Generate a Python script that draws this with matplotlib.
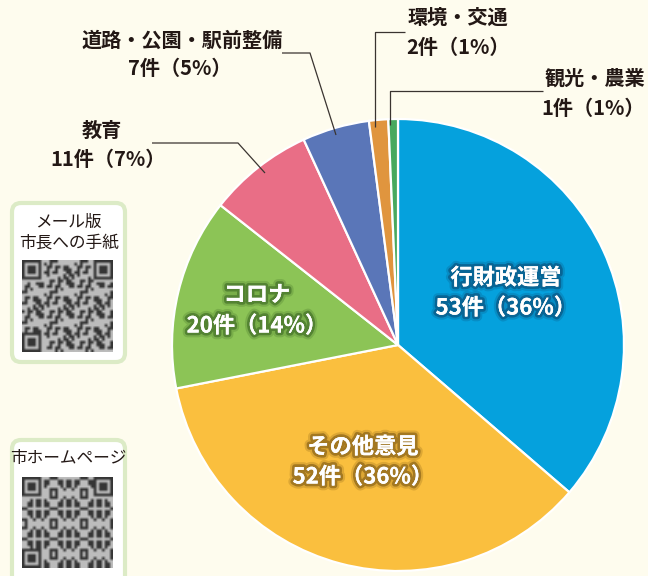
import numpy as np
import matplotlib.pyplot as plt
import matplotlib.patheffects as pe
from matplotlib.patches import FancyBboxPatch

plt.rcParams['font.family'] = ['Noto Sans CJK JP', 'DejaVu Sans']

# data (clockwise from 12 o'clock)
categories = ['行財政運営', 'その他意見', 'コロナ', '教育', '道路・公園・駅前整備', '環境・交通', '観光・農業']
counts = [53, 52, 20, 11, 7, 2, 1]
percents = [36, 36, 14, 7, 5, 1, 1]
colors = ['#05a1dd', '#fabf3e', '#8cc456', '#e96e86', '#5a76b8', '#e0953e', '#48a95e']
shadow_colors = ['#0b3f66', '#6b4a10', '#2f5a1c']

W, H = 648, 576
BG = '#fefcee'
TXT = '#231815'


def py(y):
    # picture y (from top) -> data y
    return H - y


fig = plt.figure(figsize=(W / 100, H / 100), dpi=100, facecolor=BG)
ax = fig.add_axes([0, 0, 1, 1])
ax.set_facecolor(BG)

cx, cy, r = 398, 345, 226
ax.pie(counts, colors=colors, startangle=90, counterclock=False,
       center=(cx, py(cy)), radius=r,
       wedgeprops=dict(edgecolor='white', linewidth=1.6))

labels = [f'{n}件（{p}%）' for n, p in zip(counts, percents)]

# labels inside the three big slices
inner_pos = [(506, 278, 308), (363, 447, 477), (257, 295, 326)]
for i, (x, y1, y2) in enumerate(inner_pos):
    fx = [pe.withStroke(linewidth=7, foreground=shadow_colors[i], alpha=0.2),
          pe.withStroke(linewidth=4, foreground=shadow_colors[i], alpha=0.5),
          pe.Normal()]
    for y, s in ((y1, categories[i]), (y2, labels[i])):
        ax.text(x, py(y), s, ha='center', va='center', fontsize=16,
                color='white', fontweight='bold', path_effects=fx)

# outside labels with leader lines
outer = {
    3: ((102, 130), (108, 159), [(152, 143), (238, 143), (265, 173)]),
    4: ((182, 40), (180, 68), [(282, 53), (310, 53), (336, 135)]),
    5: ((458, 17), (458, 47), [(405, 32), (375, 32), (375, 127)]),
    6: ((595, 78), (593, 108), [(543, 91), (390, 91), (390, 125)]),
}
for i, (p1, p2, line) in outer.items():
    ax.text(p1[0], py(p1[1]), categories[i], ha='center', va='center',
            fontsize=14.5, color=TXT, fontweight='bold')
    ax.text(p2[0], py(p2[1]), labels[i], ha='center', va='center',
            fontsize=14.5, color=TXT, fontweight='bold')
    xs, ys = zip(*line)
    ax.plot(xs, [py(v) for v in ys], color='#3a3430', lw=0.9, solid_capstyle='butt')


# QR code boxes on the left (decorative only)
def qr_image(n=33, k=3):
    i, j = np.mgrid[0:n, 0:n]
    m = (((i * i * 7 + j * j * 13 + i * j * (5 + k)) % 11) < 5).astype(float)
    for (a, b) in ((0, 0), (0, n - 7), (n - 7, 0)):
        m[a:a + 8, b:b + 8] = 0
        m[a:a + 7, b:b + 7] = 1
        m[a + 1:a + 6, b + 1:b + 6] = 0
        m[a + 2:a + 5, b + 2:b + 5] = 1
    return m


boxes = [
    ((12, 203, 113, 159), ['メール版', '市長への手紙'], (260, 352), 3),
    ((12, 440, 113, 160), ['市ホームページ'], (477, 568), 6),
]
for (bx, by, bw, bh), texts, (qy0, qy1), k in boxes:
    ax.add_patch(FancyBboxPatch((bx, py(by + bh)), bw, bh,
                                boxstyle='round,pad=0,rounding_size=9',
                                facecolor='white', edgecolor='#dcebc6', lw=3, zorder=3))
    for t_i, t in enumerate(texts):
        ax.text(bx + bw / 2, py(by + 19 + 21 * t_i), t, ha='center', va='center',
                fontsize=12, color=TXT, zorder=4)
    ax.imshow(qr_image(k=k), cmap='gray_r', vmin=-0.5, vmax=1.4,
              interpolation='bilinear', extent=(22, 113, py(qy1), py(qy0)), zorder=4)

ax.set_xlim(0, W)
ax.set_ylim(0, H)
ax.set_aspect('equal')
ax.axis('off')

fig.savefig('out.png', dpi=100, facecolor=BG)
